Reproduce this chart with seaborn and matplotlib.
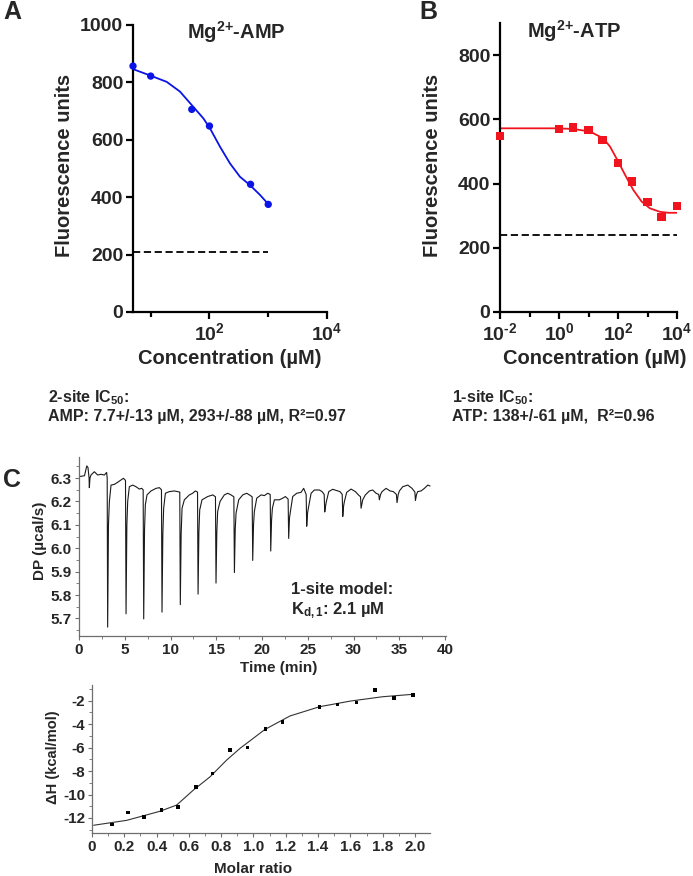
import numpy as np
import pandas as pd
import matplotlib
matplotlib.use("Agg")
import matplotlib.pyplot as plt
import seaborn as sns
from matplotlib.ticker import FixedLocator, MultipleLocator, NullFormatter, FixedFormatter

# ---------------- data ----------------
# Panel A: Mg2+-AMP
amp_conc = [5, 10, 50, 100, 500, 1000]
amp_fluor = [857, 822, 706, 648, 445, 375]
amp_fit_conc = [5.06, 10.4, 18.7, 31.5, 53, 78.5, 102, 151, 223, 331, 490, 724, 1000]
amp_fit_fluor = [846, 822, 802, 768, 715, 675, 640, 576, 518, 471, 442, 408, 376]
amp_background = 208

# Panel B: Mg2+-ATP
atp_conc = [0.01, 1, 3, 10, 30, 100, 300, 1000, 3000, 10000]
atp_fluor = [548, 570, 575, 567, 536, 463, 406, 342, 295, 331]
atp_fit_conc = [0.01, 0.83, 3.05, 11.2, 31.6, 53.7, 95.5, 174, 331, 631, 1202, 2630, 5130, 9770]
atp_fit_fluor = [572, 572, 570, 562, 541, 515, 473, 427, 380, 344, 323, 312, 309, 309]
atp_background = 240

# Panel C top: ITC thermogram
itc_time = [0.0, 0.6, 0.85, 0.98, 1.10, 1.13, 1.2, 1.31, 1.68, 2.04, 2.40, 2.77, 3.02,
            3.08, 3.13, 3.22, 3.32, 3.50, 3.86, 4.23, 4.59, 4.85,
            5.08, 5.14, 5.23, 5.32, 5.50, 5.87, 6.23, 6.59, 6.85,
            7.01, 7.07, 7.16, 7.25, 7.43, 7.87, 8.42, 8.78,
            9.01, 9.07, 9.16, 9.25, 9.44, 9.87, 10.42, 10.78,
            11.01, 11.07, 11.16, 11.26, 11.51, 12.06, 12.42, 12.71,
            12.95, 13.01, 13.10, 13.19, 13.44, 14.06, 14.61,
            14.91, 14.97, 15.06, 15.15, 15.41, 15.88, 16.25, 16.61,
            16.92, 16.98, 17.07, 17.16, 17.45, 17.89, 18.32, 18.62,
            18.92, 18.98, 19.07, 19.16, 19.42, 19.89, 20.26, 20.62,
            20.89, 20.95, 21.04, 21.13, 21.35, 21.89, 22.26, 22.55,
            22.85, 22.91, 23.00, 23.10, 23.35, 23.79, 24.26, 24.55,
            24.82, 24.88, 24.97, 25.06, 25.36, 25.72, 26.27, 26.56,
            26.79, 26.85, 26.94, 27.03, 27.29, 27.72, 28.27, 28.52,
            28.76, 28.82, 28.91, 29.00, 29.25, 29.73, 30.20, 30.53,
            30.76, 30.82, 30.91, 31.00, 31.29, 31.73, 32.09, 32.46,
            32.75, 32.82, 32.95, 33.11, 33.55, 33.99, 34.35,
            34.68, 34.75, 34.88, 35.01, 35.37, 35.92, 36.39,
            36.70, 36.76, 36.88, 37.01, 37.38, 37.74, 38.11, 38.36]
itc_dp = [6.306, 6.310, 6.352, 6.345, 6.300, 6.259, 6.300, 6.313, 6.327, 6.313, 6.316, 6.313, 6.324,
          6.300, 5.663, 6.100, 6.200, 6.270, 6.273, 6.282, 6.292, 6.299,
          6.290, 5.720, 6.100, 6.200, 6.263, 6.270, 6.263, 6.253, 6.256,
          6.250, 5.698, 6.080, 6.186, 6.228, 6.245, 6.256, 6.259,
          6.250, 5.727, 6.060, 6.171, 6.235, 6.242, 6.245, 6.242,
          6.240, 5.759, 6.060, 6.171, 6.207, 6.228, 6.235, 6.245,
          6.240, 5.804, 6.070, 6.164, 6.207, 6.221, 6.228,
          6.220, 5.851, 6.070, 6.157, 6.200, 6.228, 6.235, 6.228,
          6.220, 5.896, 6.080, 6.150, 6.207, 6.228, 6.235, 6.228,
          6.220, 5.948, 6.100, 6.157, 6.214, 6.228, 6.225, 6.235,
          6.230, 5.988, 6.120, 6.171, 6.207, 6.207, 6.214, 6.221,
          6.210, 6.042, 6.130, 6.157, 6.221, 6.235, 6.239, 6.256,
          6.230, 6.094, 6.150, 6.171, 6.235, 6.249, 6.249, 6.242,
          6.230, 6.155, 6.180, 6.200, 6.242, 6.252, 6.245, 6.242,
          6.230, 6.136, 6.180, 6.200, 6.239, 6.253, 6.242, 6.228,
          6.220, 6.171, 6.190, 6.207, 6.228, 6.245, 6.249, 6.235,
          6.230, 6.207, 6.230, 6.242, 6.256, 6.245, 6.242,
          6.230, 6.195, 6.230, 6.245, 6.263, 6.270, 6.256,
          6.240, 6.204, 6.230, 6.242, 6.245, 6.256, 6.270, 6.266]

# Panel C bottom: integrated heats
itc_ratio = [0.122, 0.221, 0.324, 0.431, 0.534, 0.642, 0.747, 0.854, 0.962,
             1.075, 1.18, 1.408, 1.52, 1.637, 1.752, 1.87, 1.986]
itc_dh = [-12.56, -11.54, -11.91, -11.34, -11.06, -9.35, -8.2, -6.21, -5.98,
          -4.42, -3.79, -2.51, -2.31, -2.14, -1.09, -1.78, -1.49]
itc_fit_ratio = [0.01, 0.215, 0.42, 0.524, 0.627, 0.73, 0.834, 0.916, 1.071,
                 1.226, 1.41, 1.6, 1.80, 1.99]
itc_fit_dh = [-12.62, -12.2, -11.43, -10.9, -9.63, -8.5, -7.06, -6.07, -4.45,
              -3.3, -2.51, -2.03, -1.66, -1.45]

# ---------------- style ----------------
sns.set_style("ticks")
plt.rcParams['font.family'] = ['Liberation Sans', 'DejaVu Sans']
plt.rcParams['font.weight'] = 'bold'
plt.rcParams['axes.labelweight'] = 'bold'
plt.rcParams['axes.unicode_minus'] = False
plt.rcParams['mathtext.fontset'] = 'custom'
plt.rcParams['mathtext.rm'] = 'Liberation Sans:bold'
plt.rcParams['mathtext.bf'] = 'Liberation Sans:bold'
plt.rcParams['mathtext.it'] = 'Liberation Sans:bold'
plt.rcParams['mathtext.default'] = 'bf'

W, H = 693, 876
fig = plt.figure(figsize=(W / 100, H / 100), dpi=100)


def rect(l, t, r, b):
    return [l / W, 1 - b / H, (r - l) / W, (b - t) / H]


def ftext(x, y, s, **kw):
    fig.text(x / W, 1 - y / H, s, **kw)


def style_ab(ax):
    for side in ['top', 'right']:
        ax.spines[side].set_visible(False)
    for side in ['left', 'bottom']:
        ax.spines[side].set_linewidth(1.6)
        ax.spines[side].set_color('black')
    ax.tick_params(which='major', length=5, width=1.6, labelsize=14, pad=2, color='black')
    ax.tick_params(which='minor', length=3.5, width=1.6, color='black')
    ax.set_xlabel('')
    ax.set_ylabel('')
    for lab in ax.get_xticklabels() + ax.get_yticklabels():
        lab.set_fontweight('bold')


# ---- Panel A ----
axA = fig.add_axes(rect(133, 25, 327, 312))
dfA = pd.DataFrame({'conc': amp_conc, 'fluor': amp_fluor})
dfAf = pd.DataFrame({'conc': amp_fit_conc, 'fluor': amp_fit_fluor})
sns.lineplot(data=dfAf, x='conc', y='fluor', ax=axA, color='#0a14e6', lw=1.3,
             sort=False, estimator=None)
sns.scatterplot(data=dfA, x='conc', y='fluor', ax=axA, color='#0a14e6', s=28,
                edgecolor='none', clip_on=False, zorder=5)
axA.hlines(amp_background, min(amp_conc), max(amp_conc), colors='black',
           linestyles=(0, (4, 2)), lw=1.3)
axA.set_xscale('log')
axA.set_xlim(5, 1e4)
axA.set_ylim(0, 1000)
axA.yaxis.set_major_locator(FixedLocator([0, 200, 400, 600, 800, 1000]))
axA.xaxis.set_major_locator(FixedLocator([1e2, 1e4]))
axA.xaxis.set_major_formatter(FixedFormatter([r'$10^{2}$', r'$10^{4}$']))
axA.xaxis.set_minor_locator(FixedLocator([1e1, 1e3]))
axA.xaxis.set_minor_formatter(NullFormatter())
style_ab(axA)

# ---- Panel B ----
axB = fig.add_axes(rect(500, 23, 677, 312))
dfB = pd.DataFrame({'conc': atp_conc, 'fluor': atp_fluor})
dfBf = pd.DataFrame({'conc': atp_fit_conc, 'fluor': atp_fit_fluor})
sns.lineplot(data=dfBf, x='conc', y='fluor', ax=axB, color='#f0141e', lw=1.3,
             sort=False, estimator=None)
sns.scatterplot(data=dfB, x='conc', y='fluor', ax=axB, color='#f0141e', s=36,
                marker='s', edgecolor='none', clip_on=False, zorder=5)
axB.hlines(atp_background, min(atp_conc), max(atp_conc), colors='black',
           linestyles=(0, (4, 2)), lw=1.3)
axB.set_xscale('log')
axB.set_xlim(1e-2, 1e4)
axB.set_ylim(0, 900)
axB.yaxis.set_major_locator(FixedLocator([0, 200, 400, 600, 800]))
axB.xaxis.set_major_locator(FixedLocator([1e-2, 1e0, 1e2, 1e4]))
axB.xaxis.set_major_formatter(FixedFormatter([r'$10^{\text{-}2}$', r'$10^{0}$', r'$10^{2}$', r'$10^{4}$']))
axB.xaxis.set_minor_locator(FixedLocator([1e-1, 1e1, 1e3]))
axB.xaxis.set_minor_formatter(NullFormatter())
style_ab(axB)

# ---- Panel C top ----
gray = '#6e6e6e'
axC1 = fig.add_axes(rect(79, 457, 446, 636))
dfC1 = pd.DataFrame({'t': itc_time, 'dp': itc_dp})
sns.lineplot(data=dfC1, x='t', y='dp', ax=axC1, color='#1a1a1a', lw=0.8,
             sort=False, estimator=None)
axC1.set_xlim(0, 40.1)
axC1.set_ylim(5.625, 6.39)
axC1.xaxis.set_major_locator(MultipleLocator(5))
axC1.xaxis.set_minor_locator(MultipleLocator(2.5))
axC1.yaxis.set_major_locator(FixedLocator([5.7, 5.8, 5.9, 6.0, 6.1, 6.2, 6.3]))
axC1.yaxis.set_minor_locator(MultipleLocator(0.05))
axC1.yaxis.set_major_formatter(plt.FormatStrFormatter('%.1f'))

# ---- Panel C bottom ----
axC2 = fig.add_axes(rect(92, 685, 430, 833))
dfC2 = pd.DataFrame({'r': itc_ratio, 'dh': itc_dh})
dfC2f = pd.DataFrame({'r': itc_fit_ratio, 'dh': itc_fit_dh})
sns.lineplot(data=dfC2f, x='r', y='dh', ax=axC2, color='#333333', lw=0.8,
             sort=False, estimator=None)
sns.scatterplot(data=dfC2, x='r', y='dh', ax=axC2, color='black', s=7,
                marker='s', edgecolor='none', zorder=5)
axC2.set_xlim(0, 2.093)
axC2.set_ylim(-13.28, -0.66)
axC2.xaxis.set_major_locator(FixedLocator([0, 0.2, 0.4, 0.6, 0.8, 1.0, 1.2, 1.4, 1.6, 1.8, 2.0]))
axC2.xaxis.set_major_formatter(FixedFormatter(['0', '0.2', '0.4', '0.6', '0.8', '1.0',
                                               '1.2', '1.4', '1.6', '1.8', '2.0']))
axC2.xaxis.set_minor_locator(MultipleLocator(0.1))
axC2.yaxis.set_major_locator(FixedLocator([-12, -10, -8, -6, -4, -2]))
axC2.yaxis.set_major_formatter(FixedFormatter(['-12', '-10', '-8', '-6', '-4', '-2']))
axC2.yaxis.set_minor_locator(MultipleLocator(1))

for ax in (axC1, axC2):
    for side in ['top', 'right']:
        ax.spines[side].set_visible(False)
    for side in ['left', 'bottom']:
        ax.spines[side].set_linewidth(0.9)
        ax.spines[side].set_color(gray)
    ax.tick_params(which='major', length=3, width=0.8, color=gray, labelsize=11, pad=2)
    ax.tick_params(which='minor', length=2, width=0.6, color=gray)
    ax.set_xlabel('')
    ax.set_ylabel('')
    for lab in ax.get_xticklabels() + ax.get_yticklabels():
        lab.set_fontweight('bold')

# ---------------- texts ----------------
ftext(3, 12, 'A', fontsize=18, fontweight='bold', ha='left', va='center')
ftext(419, 12, 'B', fontsize=18, fontweight='bold', ha='left', va='center')
ftext(3, 480, 'C', fontsize=18, fontweight='bold', ha='left', va='center')

ftext(236, 32, r'Mg$^{2{+}}$-AMP', fontsize=14.5, fontweight='bold', ha='center', va='center')
ftext(574, 31, r'Mg$^{2{+}}$-ATP', fontsize=14.5, fontweight='bold', ha='center', va='center')

ftext(65, 165, 'Fluorescence units', fontsize=14.5, fontweight='bold', rotation=90,
      ha='center', va='center')
ftext(432, 165, 'Fluorescence units', fontsize=14.5, fontweight='bold', rotation=90,
      ha='center', va='center')
ftext(230, 358, 'Concentration (µM)', fontsize=14.5, fontweight='bold', ha='center', va='center')
ftext(595, 358, 'Concentration (µM)', fontsize=14.5, fontweight='bold', ha='center', va='center')

ftext(48, 398, r'2-site IC$_{50}$:', fontsize=11.5, fontweight='bold', ha='left', va='center')
ftext(48, 416, 'AMP: 7.7+/-13 µM, 293+/-88 µM, R²=0.97', fontsize=11.5, fontweight='bold',
      ha='left', va='center')
ftext(452, 398, r'1-site IC$_{50}$:', fontsize=11.5, fontweight='bold', ha='left', va='center')
ftext(452, 416, 'ATP: 138+/-61 µM,  R²=0.96', fontsize=11.5, fontweight='bold',
      ha='left', va='center')

ftext(291, 590, '1-site model:', fontsize=12, fontweight='bold', ha='left', va='center')
ftext(291, 611, r'K$_{d,1}$: 2.1 µM', fontsize=12, fontweight='bold', ha='left', va='center')

ftext(40, 541, 'DP (µcal/s)', fontsize=11, fontweight='bold', rotation=90,
      ha='center', va='center')
ftext(279, 668, 'Time (min)', fontsize=11, fontweight='bold', ha='center', va='center')
ftext(53, 757, 'ΔH (kcal/mol)', fontsize=10.5, fontweight='bold', rotation=90,
      ha='center', va='center')
ftext(253, 869, 'Molar ratio', fontsize=11, fontweight='bold', ha='center', va='center')

fig.savefig('out.png', dpi=100, facecolor='white')
